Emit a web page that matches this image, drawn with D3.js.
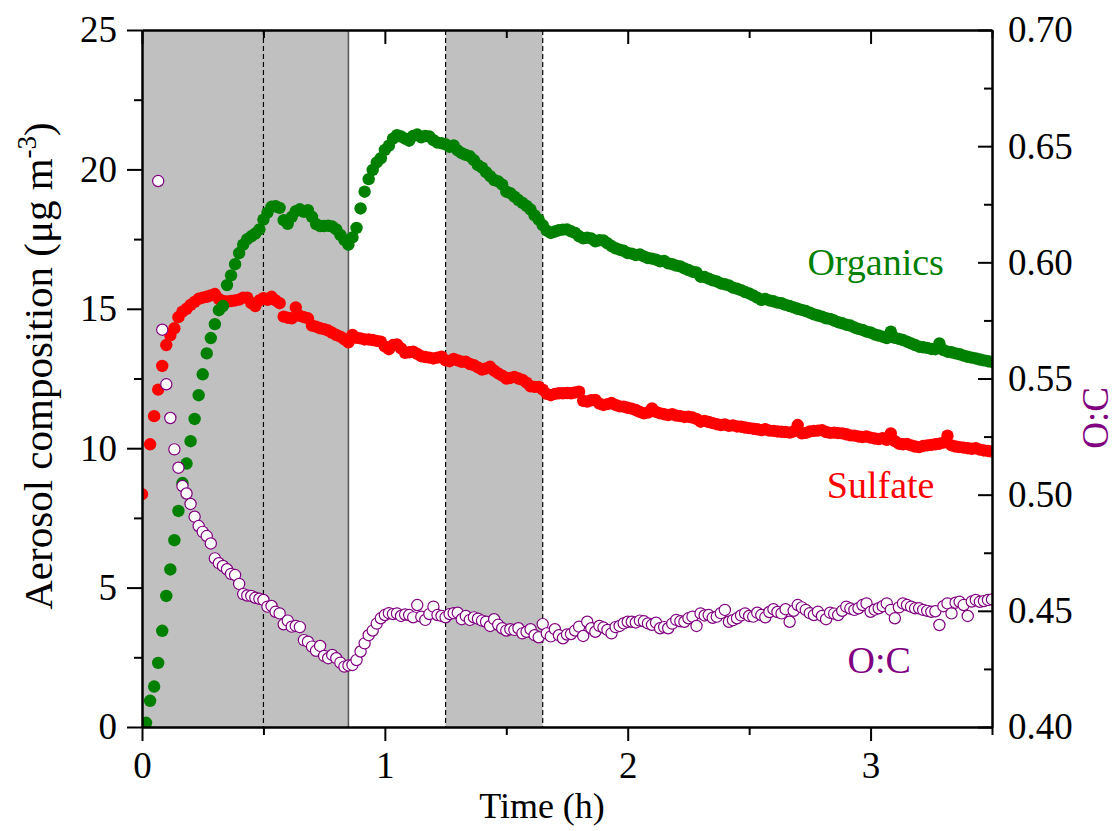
<!DOCTYPE html>
<html>
<head>
<meta charset="utf-8">
<script src="https://cdn.jsdelivr.net/npm/d3@7"></script>
<style>
  body { margin: 0; background: #fff; }
  text { font-family: "Liberation Serif", "Times New Roman", serif; }
</style>
</head>
<body>
<svg id="chart" width="1119" height="831"></svg>
<script>
// sampling time, minutes from start
var minutes = [
  0,1,2,3,4,5,6,7,8,9,
  10,11,12,13,14,15,16,17,18,19,
  20,21,22,23,24,25,26,27,28,29,
  30,31,32,33,34,35,36,37,38,39,
  40,41,42,43,44,45,46,47,48,49,
  50,51,52,53,54,55,56,57,58,59,
  60,61,62,63,64,65,66,67,68,69,
  70,71,72,73,74,75,76,77,78,79,
  80,81,82,83,84,85,86,87,88,89,
  90,91,92,93,94,95,96,97,98,99,
  100,101,102,103,104,105,106,107,108,109,
  110,111,112,113,114,115,116,117,118,119,
  120,121,122,123,124,125,126,127,128,129,
  130,131,132,133,134,135,136,137,138,139,
  140,141,142,143,144,145,146,147,148,149,
  150,151,152,153,154,155,156,157,158,159,
  160,161,162,163,164,165,166,167,168,169,
  170,171,172,173,174,175,176,177,178,179,
  180,181,182,183,184,185,186,187,188,189,
  190,191,192,193,194,195,196,197,198,199,
  200,201,202,203,204,205,206,207,208,209,
  210
];

// ug m-3
var organics = [
  null,0.15,0.94,1.45,2.3,3.45,4.7,5.65,6.7,7.75,
  8.75,9.45,10.25,11.05,11.9,12.65,13.4,13.95,14.45,14.95,
  15.1,15.85,16.2,16.6,17.0,17.3,17.5,17.6,17.7,17.85,
  18.2,18.45,18.66,18.68,18.62,18.18,18.05,18.3,18.5,18.57,
  18.48,18.54,18.3,18.04,17.97,17.97,17.98,17.95,17.85,17.65,
  17.47,17.3,17.56,17.9,18.6,19.2,19.65,19.98,20.25,20.4,
  20.7,20.85,21.1,21.23,21.18,21.1,21.03,21.2,21.25,21.15,
  21.2,21.18,21.05,20.96,20.94,20.9,20.81,20.86,20.68,20.58,
  20.52,20.47,20.33,20.15,20.06,19.9,19.76,19.62,19.57,19.45,
  19.2,19.15,19.02,18.9,18.8,18.69,18.56,18.35,18.2,18.0,
  17.8,17.72,17.77,17.82,17.84,17.85,17.78,17.72,17.6,17.53,
  17.55,17.52,17.42,17.46,17.45,17.35,17.25,17.17,17.12,17.08,
  17.0,16.98,16.93,16.95,16.88,16.82,16.80,16.76,16.70,16.72,
  16.63,16.60,16.55,16.52,16.45,16.39,16.33,16.30,16.15,16.14,
  16.08,16.02,15.98,15.91,15.88,15.84,15.76,15.72,15.67,15.60,
  15.55,15.48,15.40,15.32,15.35,15.30,15.27,15.22,15.20,15.14,
  15.10,15.05,15.00,14.96,14.92,14.86,14.80,14.76,14.72,14.66,
  14.64,14.58,14.52,14.48,14.43,14.40,14.33,14.28,14.24,14.18,
  14.15,14.08,14.04,14.00,13.95,14.18,13.96,13.92,13.88,13.82,
  13.76,13.70,13.64,13.62,13.60,13.56,13.55,13.76,13.52,13.46,
  13.44,13.40,13.37,13.32,13.28,13.25,13.22,13.18,13.15,13.12,
  13.10
];

var sulfate = [
  8.35,null,10.14,11.15,12.1,12.95,13.7,14.05,14.3,14.7,
  14.9,15.0,15.14,15.25,15.36,15.4,15.43,15.48,15.53,15.35,
  15.28,15.26,15.28,15.3,15.33,15.4,15.4,15.2,15.1,15.3,
  15.38,15.32,15.43,15.3,15.2,14.72,14.68,14.66,15.05,14.75,
  14.7,14.66,14.4,14.36,14.3,14.27,14.22,14.14,14.06,14.0,
  13.9,13.8,14.06,13.96,13.94,13.9,13.9,13.88,13.85,13.82,
  13.65,13.55,13.7,13.72,13.58,13.42,13.44,13.46,13.38,13.3,
  13.27,13.25,13.22,13.25,13.28,13.15,13.12,13.2,13.15,13.1,
  13.1,13.02,12.98,12.9,12.82,12.86,12.92,12.78,12.68,12.6,
  12.5,12.52,12.56,12.5,12.45,12.35,12.22,12.2,12.2,12.1,
  11.95,11.9,11.95,11.97,11.97,11.98,11.97,12.0,12.03,11.7,
  11.67,11.72,11.73,11.6,11.55,11.58,11.62,11.55,11.5,11.49,
  11.45,11.42,11.37,11.30,11.25,11.28,11.43,11.30,11.25,11.22,
  11.19,11.22,11.17,11.15,11.12,11.13,11.10,11.05,10.95,10.98,
  10.94,10.90,10.86,10.83,10.85,10.80,10.82,10.78,10.77,10.74,
  10.72,10.70,10.68,10.65,10.68,10.63,10.62,10.60,10.59,10.58,
  10.56,10.60,10.83,10.53,10.55,10.60,10.62,10.63,10.65,10.58,
  10.55,10.56,10.54,10.53,10.50,10.46,10.45,10.42,10.40,10.42,
  10.38,10.35,10.33,10.36,10.30,10.53,10.25,10.16,10.14,10.15,
  10.10,10.06,10.04,10.08,10.10,10.12,10.14,10.16,10.20,10.45,
  10.10,10.06,10.04,10.02,10.00,9.98,10.00,9.95,9.92,9.90,
  9.88
];

// O:C ratio (right axis)
var ocRatio = [
  null,null,null,null,0.635,0.571,0.5475,0.533,0.5195,0.5116,
  0.5037,0.5005,0.4960,0.4905,0.4865,0.4840,0.4822,0.4790,0.4726,0.4705,
  0.4693,0.4679,0.4659,0.4654,0.4616,0.4572,0.4566,0.4564,0.4556,0.4552,
  0.4547,0.4518,0.4521,0.4496,0.4489,0.4442,0.4458,0.4432,0.4435,0.4430,
  0.4374,0.4367,0.4346,0.4328,0.4349,0.4306,0.4296,0.4310,0.4296,0.4277,
  0.4260,0.4265,0.4267,0.4288,0.4325,0.4360,0.4395,0.4415,0.4445,0.4468,
  0.4482,0.4490,0.4486,0.4489,0.4478,0.4484,0.4482,0.4472,0.4525,0.4475,
  0.4461,0.4486,0.4518,0.4482,0.4478,0.4472,0.4486,0.4490,0.4492,0.4464,
  0.4478,0.4461,0.4472,0.4466,0.4458,0.4453,0.4435,0.4464,0.4440,0.4425,
  0.4415,0.4421,0.4418,0.4425,0.4403,0.4410,0.4421,0.4395,0.4386,0.4443,
  0.4403,0.4390,0.4421,0.4395,0.4382,0.4398,0.4400,0.4415,0.4432,0.4392,
  0.4453,0.4425,0.4410,0.4435,0.4428,0.4418,0.4403,0.4430,0.4435,0.4446,
  0.4453,0.4453,0.4450,0.4458,0.4455,0.4446,0.4440,0.4449,0.4425,0.4430,
  0.4425,0.4445,0.4461,0.4455,0.4453,0.4468,0.4475,0.4435,0.4489,0.4480,
  0.4482,0.4470,0.4475,0.4490,0.4504,0.4453,0.4460,0.4468,0.4480,0.4489,
  0.4478,0.4475,0.4492,0.4482,0.4472,0.4495,0.4507,0.4495,0.4489,0.4507,
  0.4453,0.4500,0.4525,0.4515,0.4504,0.4490,0.4482,0.4496,0.4478,0.4464,
  0.4492,0.4488,0.4482,0.4500,0.4518,0.4510,0.4504,0.4511,0.4525,0.4532,
  0.4496,0.4505,0.4511,0.4520,0.4532,0.4504,0.4468,0.4515,0.4532,0.4525,
  0.4518,0.4511,0.4511,0.4504,0.4500,0.4496,0.4498,0.4439,0.4520,0.4532,
  0.4489,0.4535,0.4539,0.4525,0.4478,0.4540,0.4547,0.4539,0.4542,0.4547,
  0.4549
];

var shadedSpans = [[0, 0.85], [1.25, 1.65]];
var dashedLines = [0.5, 1.25, 1.65];
var solidLines = [0.85];

var xMajor = [0, 1, 2, 3];
var xMinor = [0.5, 1.5, 2.5, 3.5];
var yMajor = [0, 5, 10, 15, 20, 25];
var yMinor = [2.5, 7.5, 12.5, 17.5, 22.5];
var rMajor = [0.40, 0.45, 0.50, 0.55, 0.60, 0.65, 0.70];
var rMinor = [0.425, 0.475, 0.525, 0.575, 0.625, 0.675];

var seriesLabels = [
  { text: "Organics", color: "#008000", t: 2.74, v: 16.2 },
  { text: "Sulfate",  color: "#ff0000", t: 2.82, v: 8.2 },
  { text: "O:C",      color: "#800080", t: 2.905, v: 1.95 }
];

var svg = d3.select("#chart");
var L = 142, R = 992, T = 30, B = 727;

var x = d3.scaleLinear().domain([0, 3.5]).range([L, R]);
var y = d3.scaleLinear().domain([0, 25]).range([B, T]);
var yr = d3.scaleLinear().domain([0.40, 0.70]).range([B, T]);

svg.append("defs").append("clipPath").attr("id", "plotclip")
  .append("rect").attr("x", L).attr("y", T).attr("width", R - L).attr("height", B - T);

// shaded periods
svg.selectAll(".shade").data(shadedSpans).enter().append("rect")
  .attr("class", "shade")
  .attr("x", function(d) { return x(d[0]); })
  .attr("y", T)
  .attr("width", function(d) { return x(d[1]) - x(d[0]); })
  .attr("height", B - T)
  .attr("fill", "#c0c0c0");

svg.selectAll(".dline").data(dashedLines).enter().append("line")
  .attr("class", "dline")
  .attr("x1", function(d) { return x(d); }).attr("x2", function(d) { return x(d); })
  .attr("y1", T).attr("y2", B)
  .attr("stroke", "#000").attr("stroke-width", 1.2).attr("stroke-dasharray", "5,3");

svg.selectAll(".sline").data(solidLines).enter().append("line")
  .attr("class", "sline")
  .attr("x1", function(d) { return x(d); }).attr("x2", function(d) { return x(d); })
  .attr("y1", T).attr("y2", B)
  .attr("stroke", "#5a5a5a").attr("stroke-width", 1.6);

var marks = svg.append("g").attr("clip-path", "url(#plotclip)");

function pts(vals) {
  return minutes.map(function(m, i) { return { t: m / 60, v: vals[i] }; })
    .filter(function(d) { return d.v != null; });
}

marks.selectAll(".so4").data(pts(sulfate)).enter().append("circle")
  .attr("class", "so4")
  .attr("cx", function(d) { return x(d.t); })
  .attr("cy", function(d) { return y(d.v); })
  .attr("r", 6.2).attr("fill", "#ff0000");

marks.selectAll(".org").data(pts(organics)).enter().append("circle")
  .attr("class", "org")
  .attr("cx", function(d) { return x(d.t); })
  .attr("cy", function(d) { return y(d.v); })
  .attr("r", 6.2).attr("fill", "#008000");

marks.selectAll(".oc").data(pts(ocRatio)).enter().append("circle")
  .attr("class", "oc")
  .attr("cx", function(d) { return x(d.t); })
  .attr("cy", function(d) { return yr(d.v); })
  .attr("r", 5.6).attr("fill", "#fff")
  .attr("stroke", "#800080").attr("stroke-width", 1.2);

// axes
function styleAxis(g) {
  g.selectAll("path.domain").attr("stroke", "#000").attr("stroke-width", 2);
  g.selectAll(".tick line").attr("stroke", "#000").attr("stroke-width", 2);
  g.selectAll("text").attr("font-family", "Liberation Serif, Times New Roman, serif")
    .attr("font-size", 37).attr("fill", "#000");
}

svg.append("g").attr("transform", "translate(0," + B + ")")
  .call(d3.axisBottom(x).tickValues(xMinor).tickSize(8).tickSizeOuter(0).tickFormat(""))
  .call(styleAxis);
svg.append("g").attr("transform", "translate(0," + B + ")")
  .call(d3.axisBottom(x).tickValues(xMajor).tickSize(14).tickSizeOuter(0).tickPadding(11).tickFormat(d3.format("d")))
  .call(styleAxis);

svg.append("g").attr("transform", "translate(0," + T + ")")
  .call(d3.axisTop(x).tickValues(xMinor).tickSize(-8).tickSizeOuter(0).tickFormat(""))
  .call(styleAxis);
svg.append("g").attr("transform", "translate(0," + T + ")")
  .call(d3.axisTop(x).tickValues(xMajor).tickSize(-14).tickSizeOuter(0).tickFormat(""))
  .call(styleAxis);

svg.append("g").attr("transform", "translate(" + L + ",0)")
  .call(d3.axisLeft(y).tickValues(yMinor).tickSize(8).tickSizeOuter(0).tickFormat(""))
  .call(styleAxis);
svg.append("g").attr("transform", "translate(" + L + ",0)")
  .call(d3.axisLeft(y).tickValues(yMajor).tickSize(15).tickSizeOuter(0).tickPadding(10).tickFormat(d3.format("d")))
  .call(styleAxis);

svg.append("g").attr("transform", "translate(" + R + ",0)")
  .call(d3.axisRight(yr).tickValues(rMinor).tickSize(-8).tickSizeOuter(0).tickFormat(""))
  .call(styleAxis);
svg.append("g").attr("transform", "translate(" + R + ",0)")
  .call(d3.axisRight(yr).tickValues(rMajor).tickSize(-14).tickSizeOuter(0).tickPadding(16).tickFormat(d3.format(".2f")))
  .call(styleAxis);

// axis titles
svg.append("text")
  .attr("x", 542).attr("y", 818)
  .attr("text-anchor", "middle").attr("font-size", 36)
  .text("Time (h)");

var yt = svg.append("text")
  .attr("transform", "translate(52,366) rotate(-90)")
  .attr("text-anchor", "middle").attr("font-size", 41);
yt.append("tspan").text("Aerosol composition (\u03bcg m");
yt.append("tspan").attr("dy", -16).attr("font-size", 27).text("-3");
yt.append("tspan").attr("dy", 16).text(")");

svg.append("text")
  .attr("transform", "translate(1108,418) rotate(-90)")
  .attr("text-anchor", "middle").attr("font-size", 37)
  .attr("fill", "#800080")
  .text("O:C");

// series labels
svg.selectAll(".slab").data(seriesLabels).enter().append("text")
  .attr("class", "slab")
  .attr("x", function(d) { return x(d.t); })
  .attr("y", function(d) { return y(d.v); })
  .attr("font-size", 38)
  .attr("fill", function(d) { return d.color; })
  .text(function(d) { return d.text; });
</script>
</body>
</html>
